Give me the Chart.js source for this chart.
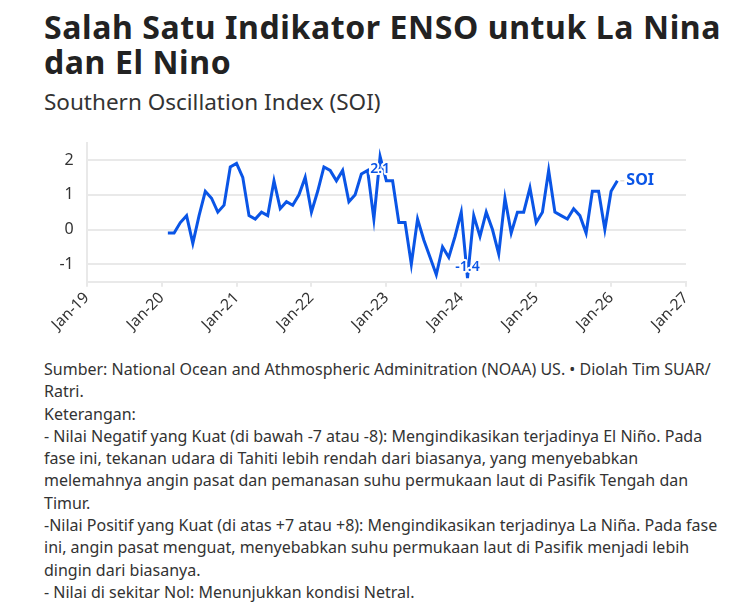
<!DOCTYPE html>
<html>
<head>
<meta charset="utf-8">
<script src="https://cdn.jsdelivr.net/npm/chart.js@4/dist/chart.umd.min.js"></script>
<style>
  html, body { margin: 0; padding: 0; background: #fff; }
  body { width: 752px; height: 607px; position: relative; overflow: hidden; font-family: "Noto Sans", sans-serif; }
  #title { position: absolute; left: 44px; top: 9px; font-size: 32px; letter-spacing: 0.6px; font-weight: 700; line-height: 35px; color: #222; white-space: nowrap; }
  #subtitle { position: absolute; left: 44px; top: 86px; font-size: 22.5px; color: #333; white-space: nowrap; }
  #wrap { position: absolute; left: 0; top: 120px; width: 752px; height: 230px; }
  #notes { position: absolute; left: 44px; top: 358px; font-size: 16px; line-height: 22.3px; color: #333; white-space: nowrap; }
</style>
</head>
<body>
<div id="title">Salah Satu Indikator ENSO untuk La Nina<br>dan El Nino</div>
<div id="subtitle">Southern Oscillation Index (SOI)</div>
<div id="wrap"><canvas id="soiChart"></canvas></div>
<div id="notes">
Sumber: National Ocean and Athmospheric Adminitration (NOAA) US. • Diolah Tim SUAR/<br>
Ratri.<br>
Keterangan:<br>
- Nilai Negatif yang Kuat (di bawah -7 atau -8): Mengindikasikan terjadinya El Niño. Pada<br>
fase ini, tekanan udara di Tahiti lebih rendah dari biasanya, yang menyebabkan<br>
melemahnya angin pasat dan pemanasan suhu permukaan laut di Pasifik Tengah dan<br>
Timur.<br>
-Nilai Positif yang Kuat (di atas +7 atau +8): Mengindikasikan terjadinya La Niña. Pada fase<br>
ini, angin pasat menguat, menyebabkan suhu permukaan laut di Pasifik menjadi lebih<br>
dingin dari biasanya.<br>
- Nilai di sekitar Nol: Menunjukkan kondisi Netral.
</div>
<script>
// monthly SOI, Feb 2020 - Feb 2026
const soiMonths = [
    "2020-02", "2020-03", "2020-04", "2020-05", "2020-06", "2020-07", "2020-08", "2020-09", "2020-10", "2020-11", "2020-12",
    "2021-01", "2021-02", "2021-03", "2021-04", "2021-05", "2021-06", "2021-07", "2021-08", "2021-09", "2021-10", "2021-11", "2021-12",
    "2022-01", "2022-02", "2022-03", "2022-04", "2022-05", "2022-06", "2022-07", "2022-08", "2022-09", "2022-10", "2022-11", "2022-12",
    "2023-01", "2023-02", "2023-03", "2023-04", "2023-05", "2023-06", "2023-07", "2023-08", "2023-09", "2023-10", "2023-11", "2023-12",
    "2024-01", "2024-02", "2024-03", "2024-04", "2024-05", "2024-06", "2024-07", "2024-08", "2024-09", "2024-10", "2024-11", "2024-12",
    "2025-01", "2025-02", "2025-03", "2025-04", "2025-05", "2025-06", "2025-07", "2025-08", "2025-09", "2025-10", "2025-11", "2025-12",
    "2026-01", "2026-02"
];
const soiValues = [
    -0.1, -0.1, 0.2, 0.4, -0.4, 0.4, 1.1, 0.9, 0.5, 0.7, 1.8,
    1.9, 1.5, 0.4, 0.3, 0.5, 0.4, 1.4, 0.6, 0.8, 0.7, 1.0, 1.5,
    0.5, 1.1, 1.8, 1.7, 1.4, 1.7, 0.8, 1.0, 1.6, 1.7, 0.3, 2.1,
    1.4, 1.4, 0.2, 0.2, -1.0, 0.3, -0.3, -0.8, -1.3, -0.5, -0.8, -0.2,
    0.5, -1.4, 0.4, -0.2, 0.5, 0.0, -0.7, 0.9, -0.1, 0.5, 0.5, 1.2,
    0.2, 0.5, 1.7, 0.5, 0.4, 0.3, 0.6, 0.4, -0.1, 1.1, 1.1, 0.0,
    1.1, 1.4
];
const xTickLabels = ["Jan-19", "Jan-20", "Jan-21", "Jan-22", "Jan-23", "Jan-24", "Jan-25", "Jan-26", "Jan-27"];
const yTicks = [-1, 0, 1, 2];
const highlights = ["2022-12", "2024-02"];

const lineColor = "#0a55e6";
const gridColor = "#e9e9e9";
const baseYear = 2019;

// months since Jan 2019
function monthIndex(s) {
    const parts = s.split("-");
    return (parseInt(parts[0]) - baseYear) * 12 + parseInt(parts[1]) - 1;
}

const points = soiMonths.map(function(m, i) {
    return { x: monthIndex(m), y: soiValues[i] };
});

const labelPlugin = {
    id: "soiLabels",
    afterDatasetsDraw(chart) {
        const ctx = chart.ctx;
        const xs = chart.scales.x;
        const ys = chart.scales.y;
        ctx.save();
        ctx.font = "600 14px 'Noto Sans'";
        ctx.textAlign = "center";
        ctx.textBaseline = "middle";
        ctx.lineJoin = "round";
        highlights.forEach(function(m) {
            const i = soiMonths.indexOf(m);
            const v = soiValues[i];
            const px = xs.getPixelForValue(monthIndex(m));
            const py = ys.getPixelForValue(v);
            const ty = v > 0 ? py + 13 : py - 11;
            const txt = v.toFixed(1);
            ctx.strokeStyle = "#fff";
            ctx.lineWidth = 4;
            ctx.strokeText(txt, px, ty);
            ctx.fillStyle = lineColor;
            ctx.fillText(txt, px, ty);
        });
        // series label at the end of the line
        const last = points[points.length - 1];
        const ex = xs.getPixelForValue(last.x);
        const ey = ys.getPixelForValue(last.y);
        ctx.strokeStyle = "#cccccc";
        ctx.lineWidth = 1;
        ctx.beginPath();
        ctx.moveTo(ex + 3, ey);
        ctx.lineTo(ex + 7, ey);
        ctx.stroke();
        ctx.font = "bold 16px 'Noto Sans'";
        ctx.textAlign = "left";
        ctx.fillStyle = lineColor;
        ctx.fillText("SOI", ex + 9, ey);
        ctx.restore();
    }
};

const ctx = document.getElementById("soiChart").getContext("2d");
new Chart(ctx, {
    type: "line",
    data: {
        datasets: [{
            label: "SOI",
            data: points,
            borderColor: lineColor,
            borderWidth: 3,
            pointRadius: 0,
            tension: 0,
            fill: false
        }]
    },
    options: {
        responsive: true,
        maintainAspectRatio: false,
        animation: false,
        layout: { padding: { left: 0, right: 66, top: 20, bottom: 0 } },
        plugins: {
            legend: { display: false },
            tooltip: { enabled: false }
        },
        scales: {
            x: {
                type: "linear",
                min: 0,
                max: 96,
                afterBuildTicks(scale) {
                    scale.ticks = xTickLabels.map(function(l, i) { return { value: i * 12 }; });
                },
                afterFit(scale) { scale.height = 68.3; },
                grid: { drawOnChartArea: false, drawTicks: true, tickLength: 5, color: gridColor, lineWidth: 2 },
                border: { display: true, color: gridColor, width: 2 },
                ticks: {
                    minRotation: 45,
                    maxRotation: 45,
                    padding: 2,
                    color: "#333",
                    font: { family: "Noto Sans", size: 15.5 },
                    callback: function(v) { return xTickLabels[Math.round(v / 12)]; }
                }
            },
            y: {
                min: -1.5,
                max: 2.5,
                afterBuildTicks(scale) {
                    scale.ticks = yTicks.map(function(v) { return { value: v }; });
                },
                afterFit(scale) { scale.width = 86.7; },
                grid: { drawTicks: false, color: gridColor, lineWidth: 2 },
                border: { display: true, color: gridColor, width: 2 },
                ticks: {
                    padding: 13,
                    color: "#333",
                    font: { family: "Noto Sans", size: 16 }
                }
            }
        }
    },
    plugins: [labelPlugin]
});
</script>
</body>
</html>
